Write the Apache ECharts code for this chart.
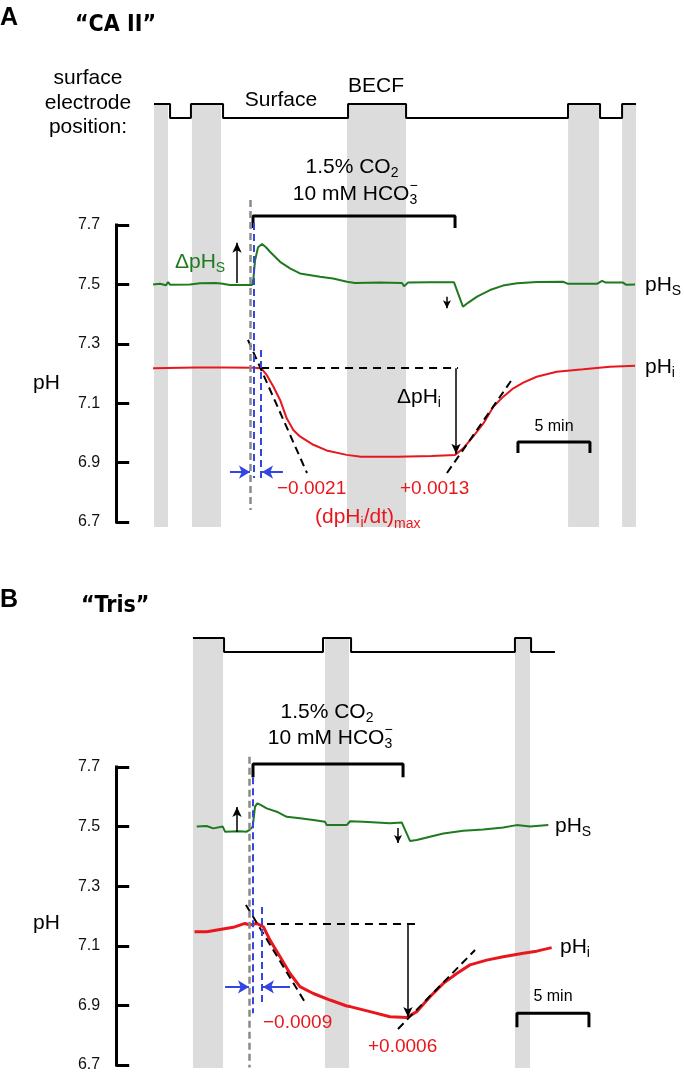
<!DOCTYPE html>
<html><head><meta charset="utf-8">
<script src="https://cdn.jsdelivr.net/npm/echarts@6/dist/echarts.min.js"></script>
<style>html,body{margin:0;padding:0;background:#fff}#c{width:684px;height:1077px}</style>
</head><body><div id="c"></div>
<script>
// ===== DATA (time in min relative to CO2/HCO3- onset; values in pH) =====
const yTicks = [6.7, 6.9, 7.1, 7.3, 7.5, 7.7];

// Panel A "CA II"
const bandsA = [[-6.875,-5.9],[-4.24,-2.22],[6.53,10.63],[21.88,24.03],[25.63,26.6]];
const electrodeA = [[-6.875,1],[-5.76,0],[-4.31,1],[-2.08,0],[6.6,1],[10.63,0],[21.875,1],[24.1,0],[25.63,1],[26.6,1]];
const pHsA = [[-6.94,7.5],[-6.46,7.502],[-6.04,7.497],[-5.9,7.508],[-5.76,7.499],[-4.38,7.5],[-3.68,7.504],[-2.64,7.505],[-2.22,7.503],[-1.6,7.498],[-0.07,7.498],[0.03,7.52],[0.14,7.58],[0.35,7.625],[0.63,7.636],[0.9,7.625],[1.18,7.61],[1.88,7.576],[2.57,7.554],[3.26,7.537],[4.65,7.526],[5.56,7.52],[6.53,7.509],[7.08,7.505],[8.82,7.506],[10.35,7.505],[10.49,7.494],[10.76,7.506],[12.29,7.507],[13.96,7.507],[14.24,7.47],[14.58,7.425],[14.93,7.438],[15.56,7.459],[16.46,7.481],[17.36,7.496],[18.33,7.504],[19.72,7.508],[21.53,7.509],[21.88,7.502],[23.89,7.502],[24.24,7.512],[24.51,7.506],[25.69,7.506],[25.9,7.499],[26.53,7.5]];
const pHiA = [[-6.94,7.218],[-4,7.22],[-2,7.22],[0,7.219],[0.56,7.218],[0.95,7.195],[1.41,7.156],[1.88,7.111],[2.34,7.049],[2.8,7.01],[3.26,6.988],[4.19,6.96],[5.11,6.941],[6.5,6.926],[7.5,6.92],[10,6.92],[12.4,6.922],[14.03,6.926],[14.6,6.948],[15.3,6.988],[16.0,7.032],[16.69,7.088],[17.38,7.122],[18.08,7.15],[18.77,7.169],[19.7,7.189],[21.09,7.206],[22.94,7.214],[24.79,7.223],[26.53,7.226]];
const co2A = [0, 14.03];
const tangentsA = [[[-0.35,7.313],[3.75,6.865]],[[13.47,6.865],[18.06,7.185]]];
const ratesA = ['\u22120.0021', '+0.0013'];

// Panel B "Tris"
const bandsB = [[-4.17,-2.08],[5.0,6.67],[18.19,19.24]];
const electrodeB = [[-4.17,1],[-2.01,0],[4.86,1],[6.81,0],[18.19,1],[19.31,0],[20.97,0]];
const pHsB = [[-3.91,7.5],[-3.22,7.502],[-2.76,7.494],[-2.1,7.5],[-1.94,7.483],[-0.9,7.484],[-0.44,7.483],[-0.21,7.49],[-0.02,7.5],[0.14,7.567],[0.3,7.578],[0.56,7.572],[0.95,7.561],[1.65,7.55],[2.34,7.533],[3.26,7.528],[4.19,7.522],[5.0,7.516],[5.12,7.505],[6.51,7.505],[6.74,7.518],[7.66,7.516],[9.51,7.511],[10.33,7.514],[10.56,7.489],[10.9,7.452],[11.37,7.455],[12.29,7.466],[13.22,7.477],[14.6,7.486],[15.99,7.49],[17.38,7.497],[18.31,7.505],[19.24,7.5],[20.51,7.505]];
const pHiB = [[-4.06,7.147],[-3.2,7.147],[-2.29,7.155],[-1.37,7.162],[-0.56,7.175],[-0.21,7.17],[0.25,7.175],[0.72,7.164],[1.18,7.119],[1.88,7.063],[2.57,7.007],[3.26,6.963],[4.19,6.94],[5.35,6.918],[6.51,6.898],[6.74,6.896],[8.13,6.879],[9.51,6.862],[10.67,6.859],[11.37,6.879],[12.29,6.929],[13.22,6.974],[14.15,7.007],[15.07,7.036],[16.23,7.052],[17.38,7.063],[18.77,7.075],[19.7,7.082],[20.74,7.094]];
const co2B = [0, 10.42];
const tangentsB = [[[-0.49,7.237],[3.68,6.905]],[[10.07,6.821],[15.42,7.086]]];
const ratesB = ['\u22120.0009', '+0.0006'];

// ===== LAYOUT / STYLE =====
const L = 116.2, W = 525.6, XMIN = -9.5, XMAX = 27;
const GREEN = '#1f7a1f', RED = '#e8171d', BLUE = '#3346e0', GRAYD = '#8a8a8a', BAND = '#dcdcdc';
const FF = '"Liberation Sans", Arial, Helvetica, sans-serif';
const FN = '"Liberation Sans Narrow", "Arial Narrow", "DejaVu Sans Condensed", sans-serif';

const PANELS = {
  A: {axisTop:225, axisH:297, dataTop:104, dataBottom:527, elecH:14},
  B: {axisTop:767, axisH:298, dataTop:638, dataBottom:1068, elecH:14}
};

const grids = [], xAxes = [], yAxes = [], series = [];
function addGrid(top, height) {
  grids.push({left:L, width:W, top:top, height:height, containLabel:false});
  const i = grids.length - 1;
  xAxes.push({type:'value', gridIndex:i, min:XMIN, max:XMAX, show:false});
  return i;
}
function stepPts(arr){
  const out=[];
  for(let i=0;i<arr.length;i++){
    if(i>0) out.push([arr[i][0], arr[i-1][1]]);
    out.push(arr[i]);
  }
  return out;
}
function seg(a, b, style, s0, s1, size) {
  return [{coord:a, symbol:s0||'none', symbolSize:size||8, lineStyle:style}, {coord:b, symbol:s1||'none', symbolSize:size||8}];
}

function buildPanel(key, d) {
  const P = PANELS[key];
  // visible pH axis grid
  const gA = addGrid(P.axisTop, P.axisH);
  yAxes.push({type:'value', gridIndex:gA, min:6.7, max:7.7, position:'left',
    axisLine:{show:true, onZero:false, lineStyle:{color:'#000', width:3, cap:'square'}},
    axisTick:{show:true, inside:true, length:13, lineStyle:{color:'#000', width:3}, customValues:yTicks},
    axisLabel:{show:true, customValues:yTicks, formatter:v=>Number(v).toFixed(1), color:'#111', fontSize:16, fontFamily:FF, margin:16},
    splitLine:{show:false}});
  // data grid (same pH scale, extended)
  const gD = addGrid(P.dataTop, P.dataBottom - P.dataTop);
  const yMax = 7.7 + (P.axisTop - P.dataTop) / P.axisH;
  const yMin = 6.7 - (P.dataBottom - (P.axisTop + P.axisH)) / P.axisH;
  yAxes.push({type:'value', gridIndex:gD, min:yMin, max:yMax, show:false});
  // electrode grid
  const gE = addGrid(P.dataTop, P.elecH);
  yAxes.push({type:'value', gridIndex:gE, min:0, max:1, show:false});

  const dash = (c,w,t)=>({color:c, width:w, type:t});
  const ml = [];
  d.tangents.forEach(t => ml.push(seg(t[0], t[1], dash('#000',2,[8,5]))));
  ml.push(seg([d.hLine[0], d.pHi0], [d.hLine[1], d.pHi0], dash('#000',2,[8,6])));
  ml.push(seg([d.dArrow[0], d.pHi0], [d.dArrow[0], d.dArrow[1]], dash('#000',1.5,'solid'), 'none', 'arrow', [7,10]));
  ml.push(seg([d.gray[0], d.gray[1]], [d.gray[0], d.gray[2]], dash(GRAYD,2.5,[7,4])));
  ml.push(seg([d.blue1[0], d.blue1[1]], [d.blue1[0], d.blue1[2]], dash(BLUE,2,[7,4])));
  ml.push(seg([d.blue2[0], d.blue2[1]], [d.blue2[0], d.blue2[2]], dash(BLUE,2,[7,4])));
  ml.push(seg([d.bArrL[0], d.bArrY], [d.bArrL[1], d.bArrY], dash(BLUE,2,'solid'), 'none', 'arrow', [10,11]));
  ml.push(seg([d.bArrR[0], d.bArrY], [d.bArrR[1], d.bArrY], dash(BLUE,2,'solid'), 'none', 'arrow', [10,11]));
  ml.push(seg([d.upArrow[0], d.upArrow[1]], [d.upArrow[0], d.upArrow[2]], dash('#000',1.5,'solid'), 'none', 'arrow', [7,10]));
  ml.push(seg([d.smallArrow[0], d.smallArrow[1]], [d.smallArrow[0], d.smallArrow[2]], dash('#000',1.5,'solid'), 'none', 'arrow', [6,8]));

  series.push({type:'line', name:'bands'+key, xAxisIndex:gD, yAxisIndex:gD, data:d.pHi, showSymbol:false, symbol:'none',
    lineStyle:{opacity:0}, silent:true, z:1,
    markArea:{silent:true, itemStyle:{color:BAND}, label:{show:false},
      data:d.bands.map(b=>[{xAxis:b[0]},{xAxis:b[1]}])}});
  series.push({type:'line', name:'pHs'+key, xAxisIndex:gD, yAxisIndex:gD, data:d.pHs, symbol:'none', showSymbol:false,
    lineStyle:{color:GREEN, width:2}, silent:true, z:3});
  series.push({type:'line', name:'pHi'+key, xAxisIndex:gD, yAxisIndex:gD, data:d.pHi, symbol:'none', showSymbol:false,
    lineStyle:{color:RED, width:d.redW}, silent:true, z:3,
    markLine:{silent:true, animation:false, label:{show:false}, emphasis:{disabled:true}, data:ml}});
  // CO2 bracket
  const br = [[d.co2[0], d.co2Y - d.co2Drop], [d.co2[0], d.co2Y], [d.co2[1], d.co2Y], [d.co2[1], d.co2Y - d.co2Drop]];
  series.push({type:'line', xAxisIndex:gD, yAxisIndex:gD, data:br, symbol:'none', lineStyle:{color:'#000', width:3}, silent:true, z:4});
  // 5 min scale bar
  const sb = [[d.scale[0], d.scaleY - d.scaleDrop], [d.scale[0], d.scaleY], [d.scale[0]+5, d.scaleY], [d.scale[0]+5, d.scaleY - d.scaleDrop]];
  series.push({type:'line', xAxisIndex:gD, yAxisIndex:gD, data:sb, symbol:'none', lineStyle:{color:'#000', width:3}, silent:true, z:4});
  // electrode position trace
  series.push({type:'line', xAxisIndex:gE, yAxisIndex:gE, data:stepPts(d.electrode), symbol:'none', lineStyle:{color:'#000', width:2}, silent:true, z:4, clip:false});
}

buildPanel('A', {bands:bandsA, electrode:electrodeA, pHs:pHsA, pHi:pHiA, tangents:tangentsA, redW:2,
  co2:co2A, co2Y:7.73, co2Drop:0.04, scale:[18.4], scaleY:6.969, scaleDrop:0.037,
  pHi0:7.218, hLine:[0.56,14.24], dArrow:[14.1,6.93],
  gray:[-0.21,7.784,6.74], blue1:[0.02,7.707,6.848], blue2:[0.56,7.279,6.835],
  bArrY:6.868, bArrL:[-1.6,-0.21], bArrR:[2.08,0.63],
  upArrow:[-1.11,7.505,7.64], smallArrow:[13.47,7.458,7.42]});
buildPanel('B', {bands:bandsB, electrode:electrodeB, pHs:pHsB, pHi:pHiB, tangents:tangentsB, redW:3,
  co2:co2B, co2Y:7.71, co2Drop:0.044, scale:[18.33], scaleY:6.874, scaleDrop:0.047,
  pHi0:7.173, hLine:[0.97,11.6], dArrow:[10.76,6.861],
  gray:[-0.28,7.734,6.692], blue1:[0.0,7.666,6.874], blue2:[0.63,7.23,6.911],
  bArrY:6.962, bArrL:[-1.94,-0.28], bArrR:[2.57,0.69],
  upArrow:[-1.11,7.482,7.566], smallArrow:[10.07,7.495,7.445]});

// ===== TEXT =====
const ctx = document.createElement('canvas').getContext('2d');
const graphics = [];
function txt(x, y, parts, opt) {
  opt = opt || {};
  const color = opt.color || '#000', weight = opt.weight || 'normal', family = opt.family || FF;
  let w = 0; const pos = [];
  parts.forEach(p => {
    const s = p[0], size = p[1], dy = p[2] || 0, stack = p[3];
    const font = weight + ' ' + size + 'px ' + family;
    ctx.font = font;
    const pw = ctx.measureText(s).width;
    pos.push({s, font, dy, x:w});
    if (!stack) w += pw;
  });
  const x0 = opt.align === 'center' ? x - w/2 : (opt.align === 'right' ? x - w : x);
  pos.forEach(p => graphics.push({type:'text', silent:true, z:100, x:x0+p.x, y:y+p.dy,
    style:{text:p.s, font:p.font, fill:color, align:'left', verticalAlign:'middle', textAlign:'left', textVerticalAlign:'middle'}}));
}
const M = 21, S = 14;
// Panel A
txt(0, 18, [['A', 25]], {weight:'bold'});
txt(75, 25, [['\u201CCA II\u201D', 23]], {weight:'bold', family:FN});
txt(88, 78, [['surface', M]], {align:'center'});
txt(88, 103, [['electrode', M]], {align:'center'});
txt(88, 127, [['position:', M]], {align:'center'});
txt(281, 100, [['Surface', M]], {align:'center'});
txt(376, 86, [['BECF', M]], {align:'center'});
txt(352, 167, [['1.5% CO', M], ['2', S, 6]], {align:'center'});
txt(355, 194, [['10 mM HCO', M], ['\u2212', S, -8, true], ['3', S, 6]], {align:'center'});
txt(175, 262, [['\u0394pH', M], ['S', S, 6]], {color:GREEN});
txt(645, 285, [['pH', M], ['S', S, 6]]);
txt(33, 383, [['pH', M]]);
txt(645, 367, [['pH', M], ['i', S, 6]]);
txt(397, 397, [['\u0394pH', M], ['i', S, 6]]);
txt(554, 427, [['5 min', 16]], {align:'center'});
txt(277, 489, [[ratesA[0], 19]], {color:RED});
txt(400, 489, [[ratesA[1], 19]], {color:RED});
txt(315, 517, [['(dpH', M], ['i', S, 6], ['/dt)', M], ['max', S, 7]], {color:RED});
// Panel B
txt(0, 600, [['B', 25]], {weight:'bold'});
txt(81, 606, [['\u201CTris\u201D', 23]], {weight:'bold', family:FN});
txt(327, 712, [['1.5% CO', M], ['2', S, 6]], {align:'center'});
txt(330, 738, [['10 mM HCO', M], ['\u2212', S, -8, true], ['3', S, 6]], {align:'center'});
txt(555, 826, [['pH', M], ['S', S, 6]]);
txt(33, 923, [['pH', M]]);
txt(560, 947, [['pH', M], ['i', S, 6]]);
txt(553, 997, [['5 min', 16]], {align:'center'});
txt(263, 1023, [[ratesB[0], 19]], {color:RED});
txt(368, 1047, [[ratesB[1], 19]], {color:RED});

const chart = echarts.init(document.getElementById('c'), null, {renderer:'canvas'});
chart.setOption({
  animation:false,
  backgroundColor:'#fff',
  grid:grids, xAxis:xAxes, yAxis:yAxes, series:series,
  graphic:{elements:graphics}
});
</script></body></html>
